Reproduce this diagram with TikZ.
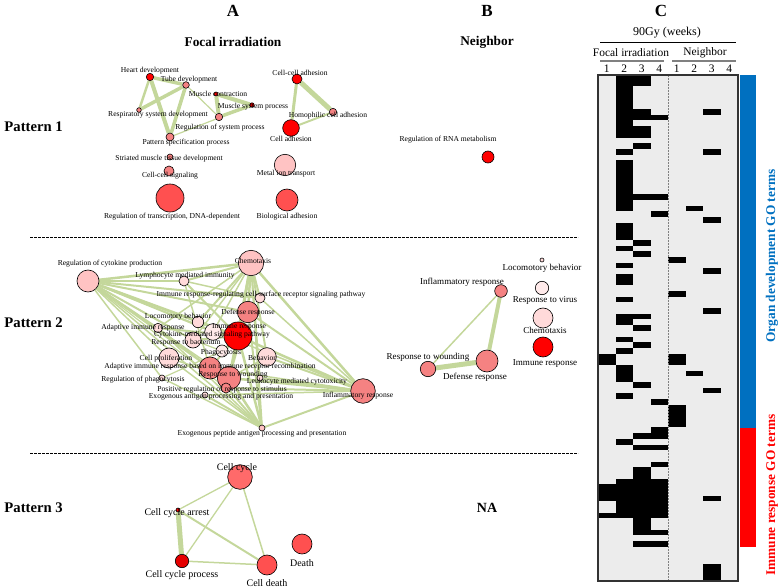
\documentclass[tikz,border=0pt]{standalone}
\usepackage{fontspec}
\setmainfont{Liberation Serif}
\usetikzlibrary{backgrounds}

\definecolor{edgegreen}{RGB}{196,215,155}
\definecolor{gored}{RGB}{255,0,0}
\definecolor{gomid}{RGB}{255,80,80}
\definecolor{gosalmon}{RGB}{245,130,130}
\definecolor{gopink}{RGB}{255,195,195}
\definecolor{golight}{RGB}{255,218,218}
\definecolor{gopale}{RGB}{255,234,234}
\definecolor{hmgray}{RGB}{236,236,236}
\definecolor{barblue}{RGB}{0,112,192}
\definecolor{barred}{RGB}{255,0,0}

\tikzset{
  gonode/.style={circle, draw=black, line width=0.45pt, inner sep=0pt, minimum size=#1*1.5pt},
  golabel/.style={font=\fontsize{5.7}{6}\selectfont, inner sep=0.5pt},
  golabelb/.style={font=\fontsize{6.8}{7}\selectfont, inner sep=0.5pt},
  golabelc/.style={font=\fontsize{7.5}{8}\selectfont, inner sep=0.5pt},
  goedge/.style={draw=edgegreen, line width=#1*0.75pt},
  panel/.style={font=\bfseries\fontsize{12.75}{13}\selectfont, inner sep=0pt},
  colhead/.style={font=\bfseries\fontsize{10}{11}\selectfont, inner sep=0pt},
  pattern/.style={font=\bfseries\fontsize{11}{12}\selectfont, inner sep=0pt, anchor=east},
  hmtext/.style={font=\fontsize{8.6}{9}\selectfont, inner sep=0pt},
  sidelabel/.style={font=\bfseries\fontsize{10}{11}\selectfont, inner sep=0pt, rotate=90},
  sepline/.style={line width=0.75pt, dash pattern=on 2.25pt off 0.75pt},
}

\begin{document}
\begin{tikzpicture}[x=0.75pt,y=0.75pt,yscale=-1,xscale=1]
\useasboundingbox (0,0) rectangle (779,588);

% Text Node
\node[panel] (panA) at (233,11) {A};
\node[panel] (panB) at (487,11) {B};
\node[panel] (panC) at (661,11) {C};
\node[colhead] (headA) at (233,42) {Focal irradiation};
\node[colhead] (headB) at (487,42) {Neighbor};
\node[pattern] (pat1) at (63,127) {Pattern 1};
\node[pattern] (pat2) at (63,323) {Pattern 2};
\node[pattern] (pat3) at (63,508) {Pattern 3};
\node[colhead, font=\bfseries\fontsize{10.5}{11}\selectfont] (na) at (487,508) {NA};

%Straight Lines
\draw[sepline] (30,238) -- (578,238);
\draw[sepline] (30,453) -- (578,453);

%%%% Pattern 1 %%%%
%Shape: Circle
\node[gonode=3.7, fill=gored] (heart) at (150,77) {};
\node[gonode=3.3, fill=gosalmon] (tube) at (186,85) {};
\node[gonode=2, fill=gored] (muscon) at (216,94) {};
\node[gonode=2.2, fill=gored!80!black] (musys) at (252,105) {};
\node[gonode=2.3, fill=gosalmon] (resp) at (139,110) {};
\node[gonode=3.7, fill=gosalmon] (regsys) at (219,117) {};
\node[gonode=4, fill=gosalmon] (patspec) at (170,137) {};
\node[gonode=3, fill=gosalmon] (striated) at (170,157) {};
\node[gonode=5, fill=gosalmon] (cellsig) at (169,171) {};
\node[gonode=14, fill=gomid] (regtrans) at (170,198) {};
\node[gonode=5, fill=gored] (ccadh) at (297,79) {};
\node[gonode=3.7, fill=gosalmon] (homoph) at (333,112) {};
\node[gonode=8.3, fill=gored] (celladh) at (291,128) {};
\node[gonode=10.7, fill=gopink] (metal) at (285,165) {};
\node[gonode=11, fill=gomid] (bioadh) at (287,200) {};
\node[gonode=6, fill=gored] (rnamet) at (488,157) {};

% Text Node
\node[golabel] (heart-l) at (150,71) {Heart development};
\node[golabel] (tube-l) at (189,80) {Tube development};
\node[golabel] (muscon-l) at (218,94) {Muscle contraction};
\node[golabel] (musys-l) at (253,107) {Muscle system process};
\node[golabel] (resp-l) at (158,115) {Respiratory system development};
\node[golabel] (regsys-l) at (220,128) {Regulation of system process};
\node[golabel] (patspec-l) at (186,143) {Pattern specification process};
\node[golabel] (striated-l) at (169,159) {Striated muscle tissue development};
\node[golabel] (cellsig-l) at (170,176) {Cell-cell signaling};
\node[golabel] (regtrans-l) at (172,217) {Regulation of transcription, DNA-dependent};
\node[golabel] (ccadh-l) at (300,73) {Cell-cell adhesion};
\node[golabel] (homoph-l) at (328,116) {Homophilic cell adhesion};
\node[golabel] (celladh-l) at (291,139) {Cell adhesion};
\node[golabel] (metal-l) at (286,174) {Metal ion transport};
\node[golabel] (bioadh-l) at (287,217) {Biological adhesion};
\node[golabel] (rnamet-l) at (448,140) {Regulation of RNA metabolism};

%%%% Pattern 2 %%%%
%Shape: Circle
\node[gonode=11, fill=gopink] (regcyto) at (88,281) {};
\node[gonode=5, fill=golight] (lympho) at (184,281) {};
\node[gonode=5, fill=golight] (immrec) at (260,298) {};
\node[gonode=12.7, fill=gopink] (chemo) at (251,263) {};
\node[gonode=10.7, fill=gosalmon] (defense) at (248,312) {};
\node[gonode=14, fill=gored] (immune) at (238,336) {};
\node[gonode=8.3, fill=gopale] (cytok) at (213,332) {};
\node[gonode=5.7, fill=golight] (locomo) at (198,322) {};
\node[gonode=4.7, fill=golight] (adaptive) at (158,328) {};
\node[gonode=8, fill=golight] (bacter) at (193,340) {};
\node[gonode=6, fill=gopale] (phago) at (222,351) {};
\node[gonode=10, fill=golight] (prolif) at (169,358) {};
\node[gonode=11, fill=gosalmon] (recomb) at (210,368) {};
\node[gonode=11.7, fill=gosalmon] (wound) at (229,378) {};
\node[gonode=3, fill=golight] (regphago) at (162,378) {};
\node[gonode=9.3, fill=golight] (behav) at (267,357) {};
\node[gonode=3, fill=golight] (leuko) at (260,378) {};
\node[gonode=5, fill=gosalmon] (posreg) at (226,388) {};
\node[gonode=3, fill=golight] (exoant) at (205,395) {};
\node[gonode=3, fill=gopink] (exopep) at (262,428) {};
\node[gonode=12.3, fill=gosalmon] (inflam) at (363,391) {};

% Text Node
\node[golabel] (regcyto-l) at (110,264) {Regulation of cytokine production};
\node[golabel] (lympho-l) at (185,276) {Lymphocyte mediated immunity};
\node[golabel] (immrec-l) at (261,295) {Immune response-regulating cell-surface receptor signaling pathway};
\node[golabel] (chemo-l) at (253,261) {Chemotaxis};
\node[golabel] (defense-l) at (248,313) {Defense response};
\node[golabel] (immune-l) at (239,327) {Immune response};
\node[golabel] (cytok-l) at (212,335) {Cytokine-mediated signaling pathway};
\node[golabel] (locomo-l) at (178,317) {Locomotory behavior};
\node[golabel] (adaptive-l) at (143,328) {Adaptive immune response};
\node[golabel] (bacter-l) at (186,343) {Response to bacterium};
\node[golabel] (phago-l) at (221,353) {Phagocytosis};
\node[golabel] (prolif-l) at (166,359) {Cell proliferation};
\node[golabel] (recomb-l) at (210,367) {Adaptive immune response based on immune receptor recombination};
\node[golabel] (wound-l) at (233,375) {Response to wounding};
\node[golabel] (regphago-l) at (143,380) {Regulation of phagocytosis};
\node[golabel] (behav-l) at (262,358) {Behavior};
\node[golabel] (leuko-l) at (297,382) {Leukocyte mediated cytotoxicity};
\node[golabel] (posreg-l) at (222,390) {Positive regulation of response to stimulus};
\node[golabel] (exoant-l) at (221,397) {Exogenous antigen processing and presentation};
\node[golabel] (exopep-l) at (262,434) {Exogenous peptide antigen processing and presentation};
\node[golabel] (inflam-l) at (358,396) {Inflammatory response};

%Shape: Circle
\node[gonode=2, fill=golight] (locob) at (542,260) {};
\node[gonode=6.3, fill=gosalmon] (inflb) at (501,291) {};
\node[gonode=6.7, fill=gopale] (virusb) at (542,288) {};
\node[gonode=10, fill=golight] (chemob) at (543,318) {};
\node[gonode=10, fill=gored] (immb) at (543,347) {};
\node[gonode=7.7, fill=gosalmon] (woundb) at (428,369) {};
\node[gonode=11, fill=gosalmon] (defb) at (487,361) {};

% Text Node
\node[golabelb] (locob-l) at (542,268) {Locomotory behavior};
\node[golabelb] (inflb-l) at (462,282) {Inflammatory response};
\node[golabelb] (virusb-l) at (545,300) {Response to virus};
\node[golabelb] (chemob-l) at (545,330) {Chemotaxis};
\node[golabelb] (immb-l) at (545,363) {Immune response};
\node[golabelb] (woundb-l) at (428,357) {Response to wounding};
\node[golabelb] (defb-l) at (475,377) {Defense response};

%%%% Pattern 3 %%%%
%Shape: Circle
\node[gonode=12.3, fill=gomid!85!white] (cycle) at (240,477) {};
\node[gonode=2, fill=gored] (arrest) at (178,510) {};
\node[gonode=6.7, fill=gored!90!black] (cproc) at (182,561) {};
\node[gonode=10, fill=gomid] (cdeath) at (267,565) {};
\node[gonode=10, fill=gomid] (death) at (302,544) {};

% Text Node
\node[golabelc] (cycle-l) at (237,468) {Cell cycle};
\node[golabelc] (arrest-l) at (177,513) {Cell cycle arrest};
\node[golabelc] (cproc-l) at (182,575) {Cell cycle process};
\node[golabelc] (cdeath-l) at (267,583) {Cell death};
\node[golabelc] (death-l) at (302,563) {Death};

%Straight Lines
\begin{scope}[on background layer]
\foreach \a/\b/\w in {heart/tube/3.5, heart/resp/2.5, heart/patspec/4, tube/resp/3.5,
  tube/patspec/3.5, tube/regsys/1.2, muscon/musys/4, muscon/regsys/4, regsys/musys/3.5,
  patspec/musys/1.2, ccadh/homoph/5, ccadh/celladh/3, homoph/celladh/2}
  \draw[goedge=\w] (\a) -- (\b);
\foreach \b/\w in {lympho/2, chemo/2.5, immrec/2, defense/2, immune/2.5, cytok/1.5,
  locomo/2, adaptive/1.5, bacter/2, prolif/1.5, recomb/2, wound/1.5, regphago/1.5,
  exopep/1.5, inflam/1.5, posreg/1.2}
  \draw[goedge=\w] (regcyto) -- (\b);
\foreach \b/\w in {lympho/2, immrec/2, defense/2.5, immune/3, cytok/1.5, locomo/2,
  behav/2, inflam/2.5, wound/2, leuko/1.5, adaptive/1.5, bacter/1.5, exopep/2}
  \draw[goedge=\w] (chemo) -- (\b);
\foreach \b/\w in {defense/2, immune/2.5, behav/2, wound/2.5, leuko/2, posreg/2,
  exoant/1.5, exopep/2, immrec/1.5, recomb/1.5}
  \draw[goedge=\w] (inflam) -- (\b);
\foreach \b/\w in {exoant/2, immune/2.5, defense/2, recomb/2, prolif/1.5, adaptive/1.5,
  wound/2.5, regphago/1.5}
  \draw[goedge=\w] (exopep) -- (\b);
\foreach \a/\b/\w in {immune/defense/3, immune/cytok/2, immune/adaptive/2, immune/recomb/2,
  immune/wound/2, immune/locomo/2, immune/bacter/2, immune/phago/1.5, defense/wound/2,
  wound/posreg/2, wound/behav/1.5, lympho/immune/2, lympho/recomb/1.5, adaptive/recomb/1.5,
  prolif/wound/1.5, phago/regphago/1.2, bacter/phago/1.2, lympho/immrec/1.5}
  \draw[goedge=\w] (\a) -- (\b);
\foreach \a/\b/\w in {inflb/defb/4, inflb/woundb/1.5, woundb/defb/5}
  \draw[goedge=\w] (\a) -- (\b);
\foreach \a/\b/\w in {cycle/arrest/1.3, cycle/cproc/1.3, cycle/cdeath/1.5,
  arrest/cproc/5, arrest/cdeath/2, cproc/cdeath/1.5}
  \draw[goedge=\w] (\a) -- (\b);
\end{scope}

%%%% Panel C %%%%
% Text Node
\node[hmtext, font=\fontsize{9}{10}\selectfont] (gy) at (667,33) {90Gy (weeks)};
\node[hmtext] (focal) at (631,53) {Focal irradiation};
\node[hmtext] (neigh) at (705,53) {Neighbor};
\foreach \k [count=\i] in {1,2,3,4,1,2,3,4}
  \node[hmtext] (num\i) at ({598+(\i-0.5)*17.5},69) {\k};
%Straight Lines
\draw[line width=0.75pt] (600,42.7) -- (736,42.7);
\draw[line width=1.1pt, gray] (600,61) -- (664,61);
\draw[line width=1.1pt, gray] (672,61) -- (736,61);

%Shape: Rectangle
\fill[hmgray] (598,75) rectangle (738,581);
\foreach \ra/\rb/\ca/\cb in {0/10/2/2, 0/1/3/3, 6/7/3/3, 7/7/4/4, 9/10/3/3, 6/6/7/7,
  12/12/3/3, 13/13/2/2, 13/13/7/7, 15/23/2/2, 21/21/3/4, 23/23/6/6, 24/24/4/4,
  25/25/7/7, 26/28/2/2, 29/29/3/3, 30/30/2/2, 31/31/3/3, 32/32/5/5, 33/33/2/2,
  34/34/7/7, 35/36/2/2, 38/38/5/5, 39/39/2/2, 41/41/7/7, 42/43/2/2, 42/42/3/3,
  44/44/3/3, 46/46/2/2, 47/47/3/3, 48/48/2/2, 49/50/1/1, 49/50/5/5, 51/53/2/2,
  52/52/6/6, 54/54/3/3, 55/55/7/7, 56/56/2/2, 57/57/4/4, 58/61/5/5, 62/63/4/4,
  63/63/3/3, 64/64/2/2, 65/65/3/4, 68/68/4/4, 69/80/3/3, 71/77/2/2, 71/77/4/4,
  72/74/1/1, 77/77/1/1, 80/80/4/4, 82/82/3/4, 74/74/7/7, 86/88/7/7}
  \fill[black] ({598+(\ca-1)*17.5},{75+\ra*5.685}) rectangle ({598+\cb*17.5},{75+(\rb+1)*5.685});
\draw[gray, line width=0.75pt, dash pattern=on 1.5pt off 0.75pt] (668,75) -- (668,581);
\draw[black!80, line width=0.9pt] (598,75) rectangle (738,581);

%Shape: Rectangle
\fill[barblue] (740,75) rectangle (756,427.5);
\fill[barred] (740,427.5) rectangle (756,547);
% Text Node
\node[sidelabel, text=barblue] (orglab) at (772,256) {Organ development GO terms};
\node[sidelabel, text=barred] (immlab) at (772,495) {Immune response GO terms};
\end{tikzpicture}
\end{document}
